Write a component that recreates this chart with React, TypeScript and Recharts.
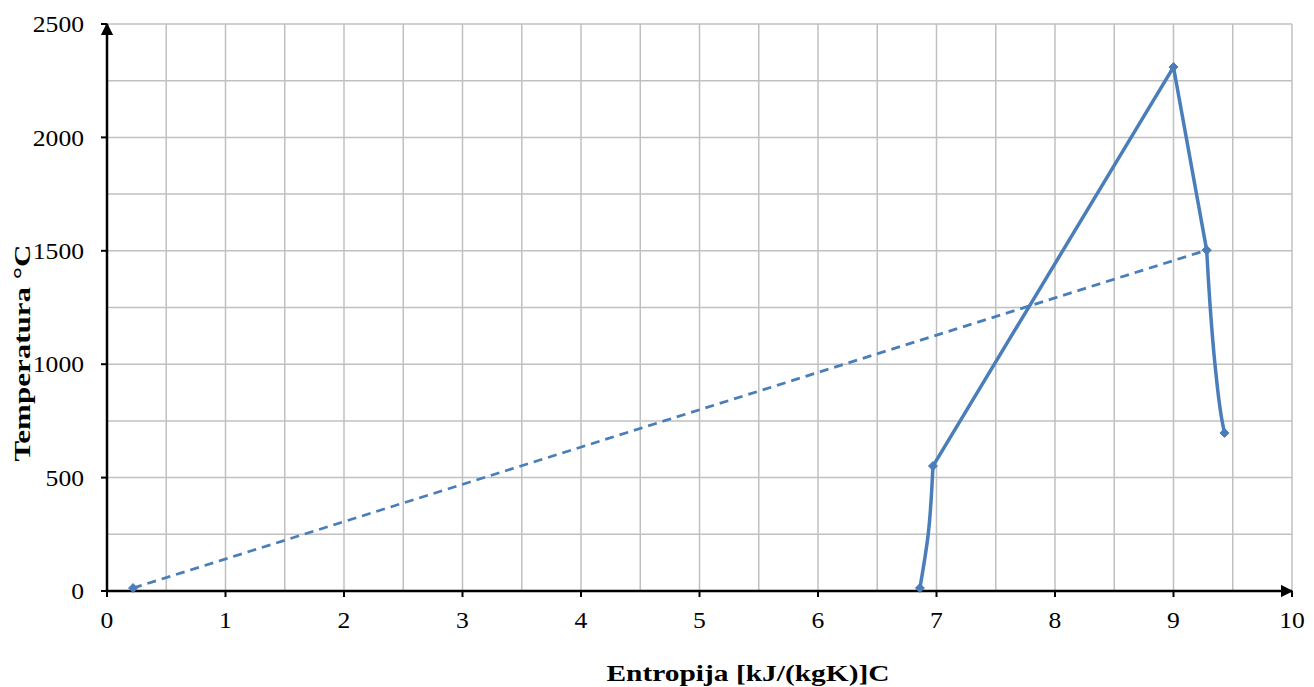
import React from 'react';
import { ComposedChart, Line, XAxis, YAxis, ReferenceLine } from 'recharts';

// solid cycle: lower curved leg (listed top-down), straight part through the peak, upper curved leg
const legAS = [6.97, 6.93, 6.86];
const legAT = [551, 250, 13];
const peakS = [6.97, 9.0, 9.28];
const peakT = [551, 2310, 1503];
const legBS = [9.28, 9.31, 9.35, 9.41, 9.43];
const legBT = [1503, 1250, 1000, 750, 697];
// dashed line
const dashS = [0.22, 9.28];
const dashT = [13, 1503];

const xTicks = [0, 1, 2, 3, 4, 5, 6, 7, 8, 9, 10];
const yTicks = [0, 500, 1000, 1500, 2000, 2500];
const gridX = [0.5, 1, 1.5, 2, 2.5, 3, 3.5, 4, 4.5, 5, 5.5, 6, 6.5, 7, 7.5, 8, 8.5, 9, 9.5, 10];
const gridY = [250, 500, 750, 1000, 1250, 1500, 1750, 2000, 2250, 2500];

const toRows = (xs: number[], ys: number[]) => xs.map((s, i) => ({ s, t: ys[i] }));
const legAData = toRows(legAS, legAT);
const peakData = toRows(peakS, peakT);
const legBData = toRows(legBS, legBT);
const dashData = toRows(dashS, dashT);

const BLUE = '#4a7ebb';
const FONT = '"Liberation Serif", "Times New Roman", serif';

// diamond marker, only drawn on the listed point indexes
const diamondAt = (which: number[]) => (props: any) => {
  const { cx, cy, index } = props;
  if (cx == null || cy == null || !which.includes(index)) return <g key={index} />;
  const r = 4.5;
  return (
    <path
      key={index}
      d={`M${cx},${cy - r} L${cx + r},${cy} L${cx},${cy + r} L${cx - r},${cy} Z`}
      fill={BLUE}
      stroke={BLUE}
      strokeWidth={1}
    />
  );
};

const XTick = (props: any) => {
  const { x, y, payload } = props;
  const label = String(payload.value);
  return (
    <text x={x} y={y} dy="0.71em" textAnchor="middle" fill="#000" fontSize={23} fontFamily={FONT}
      textLength={label.length * 12.8} lengthAdjust="spacingAndGlyphs">
      {label}
    </text>
  );
};

const YTick = (props: any) => {
  const { x, y, payload } = props;
  const label = String(payload.value);
  return (
    <text x={x} y={y} dy="0.355em" textAnchor="end" fill="#000" fontSize={23} fontFamily={FONT}
      textLength={label.length * 12.8} lengthAdjust="spacingAndGlyphs">
      {label}
    </text>
  );
};

const App: React.FC = () => {
  return (
    <div style={{ position: 'absolute', left: 0, top: 0, width: 1314, height: 687, background: '#fff' }}>
      <svg width={0} height={0} style={{ position: 'absolute' }}>
        <defs>
          <marker id="arrowHead" viewBox="0 0 10 10" refX="9" refY="5" markerWidth="5" markerHeight="5"
            orient="auto-start-reverse" markerUnits="strokeWidth">
            <path d="M0,0 L10,5 L0,10 Z" fill="#000" />
          </marker>
        </defs>
      </svg>
      <ComposedChart width={1314} height={687} margin={{ top: 24, right: 22, left: 0, bottom: 0 }}>
        {gridX.map((v) => (
          <ReferenceLine key={'gx' + v} x={v} stroke="#c0c0c0" strokeWidth={1.5} />
        ))}
        {gridY.map((v) => (
          <ReferenceLine key={'gy' + v} y={v} stroke="#c0c0c0" strokeWidth={1.5} />
        ))}
        <XAxis
          type="number"
          dataKey="s"
          domain={[0, 10]}
          ticks={xTicks}
          allowDataOverflow
          height={96}
          tickSize={6}
          tickMargin={15}
          axisLine={{ stroke: '#000', strokeWidth: 2.5, markerEnd: 'url(#arrowHead)' }}
          tickLine={{ stroke: '#000', strokeWidth: 2 }}
          tick={XTick}
        />
        <YAxis
          type="number"
          dataKey="t"
          domain={[0, 2500]}
          ticks={yTicks}
          width={107}
          tickSize={6}
          tickMargin={17}
          axisLine={{ stroke: '#000', strokeWidth: 2.5, markerStart: 'url(#arrowHead)' }}
          tickLine={{ stroke: '#000', strokeWidth: 2 }}
          tick={YTick}
        />
        <Line
          data={dashData}
          dataKey="t"
          type="linear"
          stroke={BLUE}
          strokeWidth={2.75}
          strokeDasharray="9 6"
          dot={diamondAt([0, 1])}
          activeDot={false}
          isAnimationActive={false}
        />
        <Line
          data={legAData}
          dataKey="t"
          type="monotoneY"
          stroke={BLUE}
          strokeWidth={3.5}
          dot={diamondAt([2])}
          activeDot={false}
          isAnimationActive={false}
        />
        <Line
          data={peakData}
          dataKey="t"
          type="linear"
          stroke={BLUE}
          strokeWidth={3.5}
          dot={diamondAt([0, 1, 2])}
          activeDot={false}
          isAnimationActive={false}
        />
        <Line
          data={legBData}
          dataKey="t"
          type="monotoneY"
          stroke={BLUE}
          strokeWidth={3.5}
          dot={diamondAt([4])}
          activeDot={false}
          isAnimationActive={false}
        />
      </ComposedChart>
      <svg width={1314} height={687} style={{ position: 'absolute', left: 0, top: 0, pointerEvents: 'none' }}>
        <text x={748} y={681} textAnchor="middle" fontFamily={FONT} fontWeight="bold" fontSize={24}
          textLength={283} lengthAdjust="spacingAndGlyphs">
          Entropija [kJ/(kgK)]C
        </text>
        <text x={0} y={0} transform="translate(30,353) rotate(-90)" textAnchor="middle" fontFamily={FONT}
          fontWeight="bold" fontSize={24} textLength={217} lengthAdjust="spacingAndGlyphs">
          Temperatura °C
        </text>
      </svg>
    </div>
  );
};

export default App;
